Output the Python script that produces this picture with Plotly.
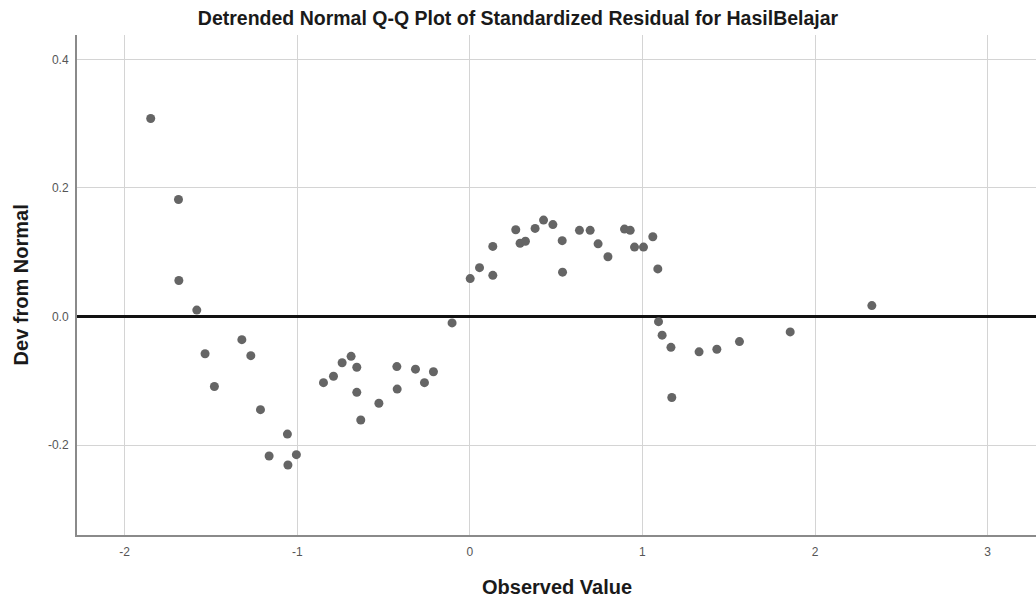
import plotly.graph_objects as go

# Observed standardized residual values and their deviation from the normal line
observed = [
    -1.849, -1.688, -1.686, -1.582,
    -1.534, -1.480, -1.321, -1.269, -1.213, -1.163, -1.057, -1.054, -1.005,
    -0.848, -0.790, -0.740, -0.688, -0.655, -0.655, -0.632, -0.527,
    -0.423, -0.421, -0.315, -0.263, -0.211, -0.103,
    0.002, 0.056, 0.133, 0.133, 0.266, 0.291, 0.322, 0.378, 0.427, 0.481,
    0.535, 0.537, 0.635, 0.697, 0.743, 0.800, 0.896, 0.929, 0.954, 1.006,
    1.060, 1.089, 1.093, 1.114, 1.165, 1.170,
    1.328, 1.431, 1.562, 1.856, 2.329,
]
dev_from_normal = [
    0.308, 0.182, 0.056, 0.010,
    -0.058, -0.109, -0.036, -0.061, -0.145, -0.217, -0.183, -0.231, -0.215,
    -0.103, -0.093, -0.072, -0.062, -0.079, -0.118, -0.161, -0.135,
    -0.078, -0.113, -0.082, -0.103, -0.086, -0.010,
    0.059, 0.076, 0.109, 0.064, 0.135, 0.114, 0.117, 0.137, 0.150, 0.143,
    0.118, 0.069, 0.134, 0.134, 0.113, 0.093, 0.136, 0.134, 0.108, 0.108,
    0.124, 0.074, -0.008, -0.029, -0.048, -0.126,
    -0.055, -0.051, -0.039, -0.024, 0.017,
]

x_ticks = [-2, -1, 0, 1, 2, 3]
y_ticks = [-0.2, 0.0, 0.2, 0.4]
x_range = [-2.276, 3.28]
y_range = [-0.34, 0.438]

title_text = "Detrended Normal Q-Q Plot of Standardized Residual for HasilBelajar"
x_title = "Observed Value"
y_title = "Dev from Normal"

FONT = "Liberation Sans, Arial, sans-serif"

fig = go.Figure()

# Reference line at zero deviation
fig.add_trace(go.Scatter(
    x=x_range, y=[0, 0], mode="lines",
    line=dict(color="#111111", width=3),
    hoverinfo="skip", showlegend=False, cliponaxis=False,
))

fig.add_trace(go.Scatter(
    x=observed, y=dev_from_normal, mode="markers",
    marker=dict(size=9, color="#656565", line=dict(width=0)),
    showlegend=False,
))

fig.update_layout(
    width=1036, height=603,
    margin=dict(l=77, r=0, t=35, b=68),
    paper_bgcolor="white", plot_bgcolor="white",
    font=dict(family=FONT),
    title=dict(
        text=title_text, x=0.5, xanchor="center", y=0.97, yanchor="middle",
        font=dict(family=FONT, size=19.5, color="#1a1a1a", weight="bold"),
    ),
    xaxis=dict(
        range=x_range, tickvals=x_ticks, ticktext=[str(v) for v in x_ticks],
        showgrid=True, gridcolor="#d4d4d4", gridwidth=1,
        zeroline=False, showline=True, linecolor="#8a8a8a", linewidth=2,
        ticks="", tickfont=dict(family=FONT, size=12, color="#555555"),
        ticklabelstandoff=5,
    ),
    yaxis=dict(
        range=y_range, tickvals=y_ticks, ticktext=["-0.2", "0.0", "0.2", "0.4"],
        showgrid=True, gridcolor="#d4d4d4", gridwidth=1,
        zeroline=False, showline=True, linecolor="#8a8a8a", linewidth=2,
        ticks="", tickfont=dict(family=FONT, size=12, color="#555555"),
        ticklabelstandoff=4,
    ),
    annotations=[
        dict(text=x_title, xref="paper", yref="paper", x=0.5005, y=-0.104,
             xanchor="center", yanchor="middle", showarrow=False,
             font=dict(family=FONT, size=20, color="#1a1a1a", weight="bold")),
        dict(text=y_title, xref="paper", yref="paper", x=-0.058, y=0.50,
             xanchor="center", yanchor="middle", showarrow=False, textangle=-90,
             font=dict(family=FONT, size=20, color="#1a1a1a", weight="bold")),
    ],
)

fig.write_html("out.html")
